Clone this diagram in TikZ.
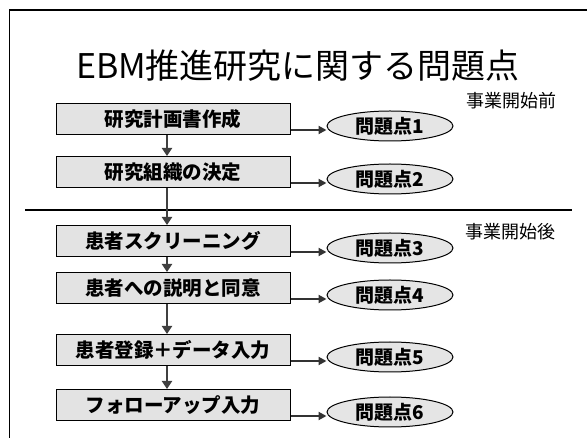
\documentclass[tikz,border=0pt]{standalone}
\usepackage{fontspec}
\newfontfamily\jp{Noto Sans CJK JP}
\usetikzlibrary{arrows.meta,shapes.geometric}
\tikzset{
  stepbox/.style={draw=black,line width=1pt,fill=gray!22,minimum width=234pt,minimum height=31pt,inner sep=0pt,font=\jp\bfseries\fontsize{19.5}{22}\selectfont},
  issue/.style={ellipse,draw=black,line width=1pt,fill=gray!20,minimum width=126pt,minimum height=30pt,inner sep=0pt,font=\jp\bfseries\fontsize{19}{21}\selectfont},
  harr/.style={line width=2pt,black!80,-{Triangle[length=8pt,width=8pt]}},
  varr/.style={line width=2.2pt,black!75,-{Triangle[length=8pt,width=10pt]}},
  phase/.style={font=\jp\fontsize{18}{20}\selectfont},
}
\begin{document}
\begin{tikzpicture}[x=1pt,y=-1pt]
\useasboundingbox (0,0) rectangle (587,438);
\draw[line width=1.4pt] (9.5,438) -- (9.5,10) -- (587,10);
\node[font=\jp\fontsize{34}{40}\selectfont] (title) at (298,66) {EBM推進研究に関する問題点};
\node[phase] (pre) at (511,101) {事業開始前};
\node[phase] (post) at (510,232) {事業開始後};
\coordinate (sepL) at (25,210);
\coordinate (sepR) at (572,210);
\draw[line width=1.2pt] (sepL) -- (sepR);

\node[stepbox] (b1) at (173,119) {研究計画書作成};
\node[stepbox] (b2) at (173,172) {研究組織の決定};
\node[stepbox] (b3) at (173,241) {患者スクリーニング};
\node[stepbox] (b4) at (173,288) {患者への説明と同意};
\node[stepbox] (b5) at (173,350) {患者登録＋データ入力};
\node[stepbox] (b6) at (173,405) {フォローアップ入力};

\node[issue] (e1) at (390,126) {問題点1};
\node[issue] (e2) at (390,179) {問題点2};
\node[issue] (e3) at (390,248) {問題点3};
\node[issue] (e4) at (390,295) {問題点4};
\node[issue] (e5) at (390,357) {問題点5};
\node[issue] (e6) at (390,412) {問題点6};

\foreach \i in {1,...,6}{
  \draw[harr] ([yshift=-11pt]b\i.east) -- ([yshift=-4pt]e\i.west);
}
\foreach \i/\j in {1/2,2/3,3/4,4/5,5/6}{
  \draw[varr] ([xshift=-6pt]b\i.south) -- ([xshift=-6pt]b\j.north);
}
\end{tikzpicture}
\end{document}
